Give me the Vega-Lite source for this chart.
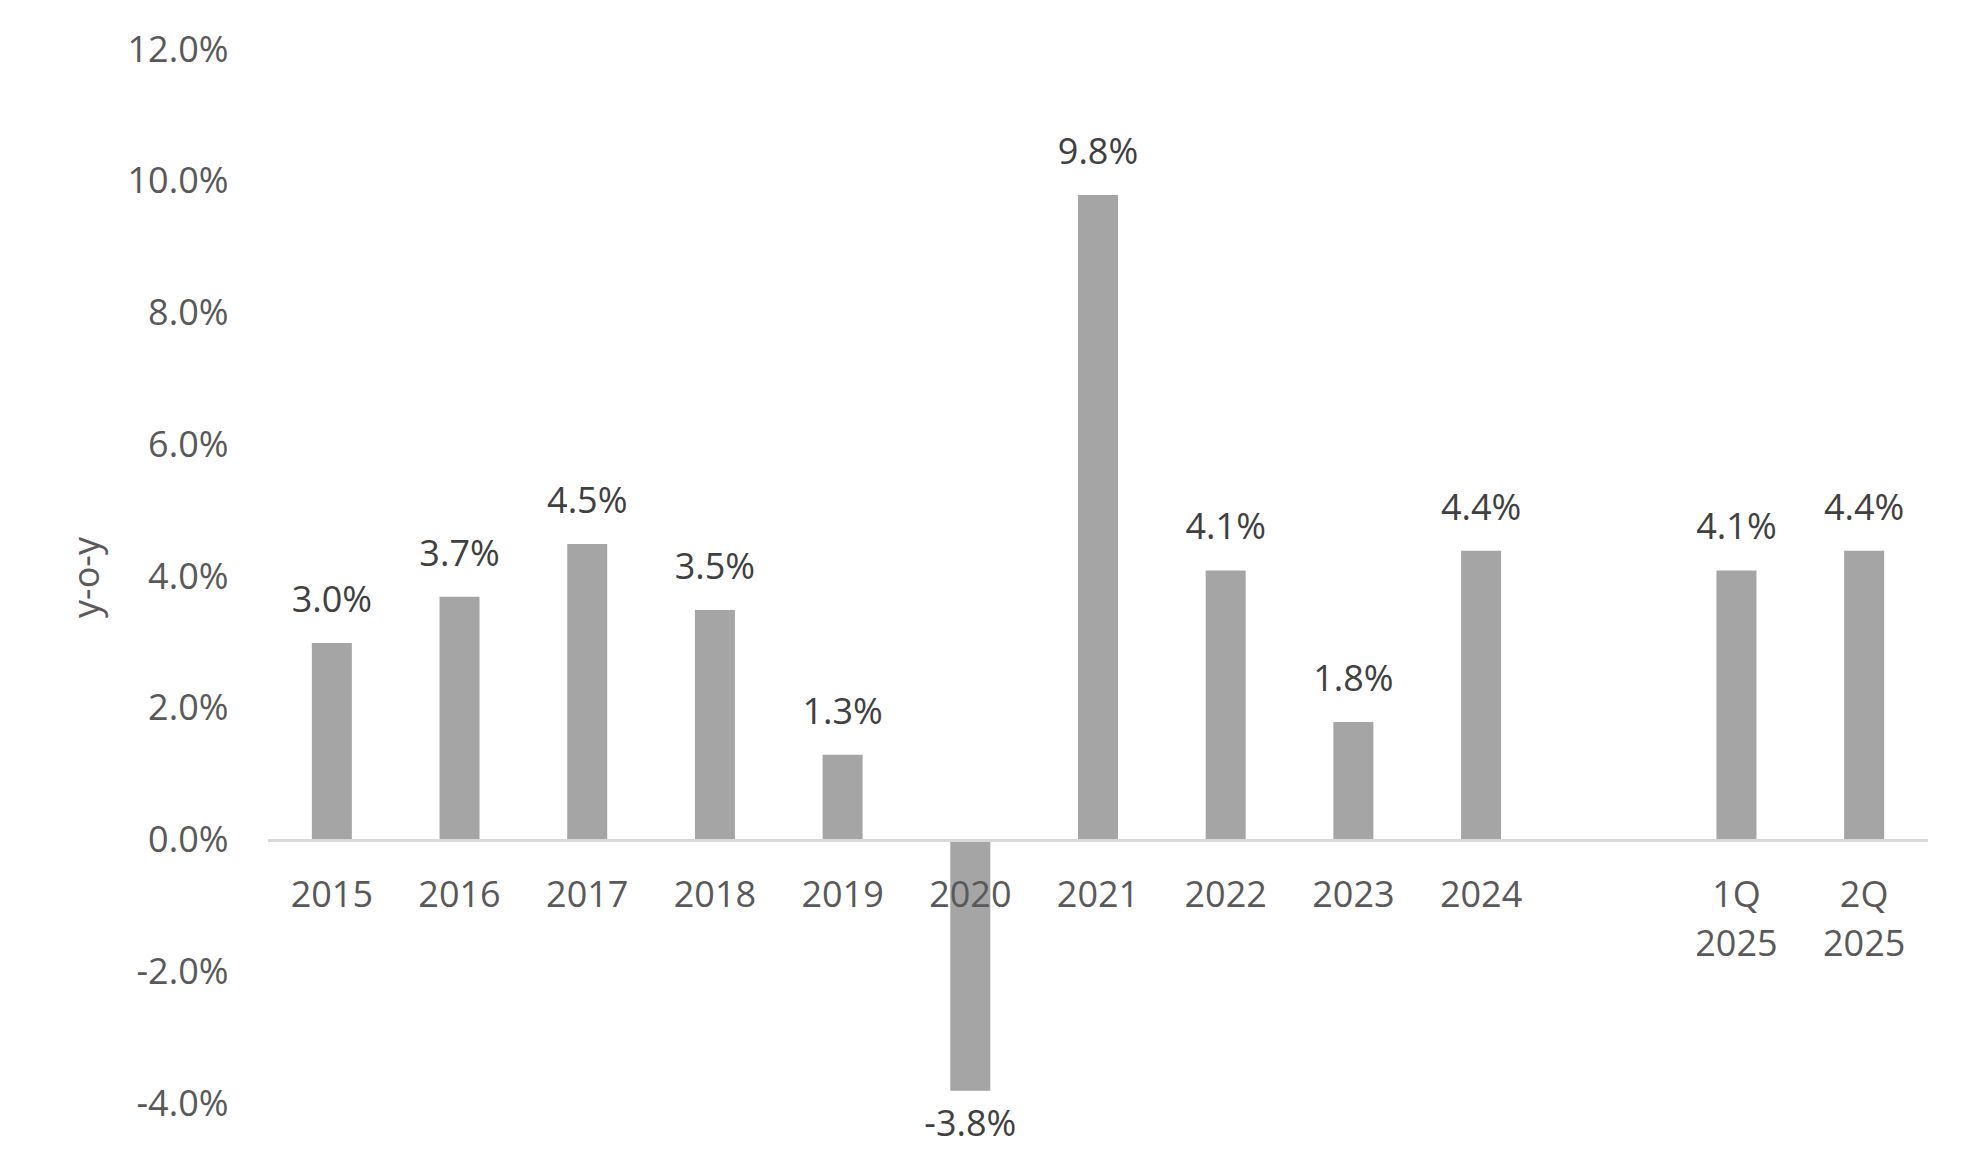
{
  "$schema": "https://vega.github.io/schema/vega-lite/v6.json",
  "width": 1660,
  "height": 1054,
  "autosize": {"type": "none"},
  "padding": {"left": 268, "top": 50, "right": 52, "bottom": 51},
  "background": "white",
  "config": {
    "view": {"stroke": null},
    "font": "Open Sans",
    "locale": {
      "number": {"decimal": ".", "thousands": ",", "grouping": [3], "currency": ["$", ""], "minus": "-", "percent": "%"}
    }
  },
  "data": {
    "values": [
      {"period": "2015", "growth": 0.030},
      {"period": "2016", "growth": 0.037},
      {"period": "2017", "growth": 0.045},
      {"period": "2018", "growth": 0.035},
      {"period": "2019", "growth": 0.013},
      {"period": "2020", "growth": -0.038},
      {"period": "2021", "growth": 0.098},
      {"period": "2022", "growth": 0.041},
      {"period": "2023", "growth": 0.018},
      {"period": "2024", "growth": 0.044},
      {"period": "1Q 2025", "growth": 0.041},
      {"period": "2Q 2025", "growth": 0.044}
    ]
  },
  "layer": [
    {
      "mark": {"type": "bar", "width": 40, "color": "#a5a5a5"},
      "encoding": {
        "x": {
          "field": "period",
          "type": "nominal",
          "sort": null,
          "scale": {
            "domain": ["2015", "2016", "2017", "2018", "2019", "2020", "2021", "2022", "2023", "2024", " ", "1Q 2025", "2Q 2025"],
            "paddingInner": 0,
            "paddingOuter": 0
          },
          "axis": {
            "title": null,
            "domain": false,
            "ticks": false,
            "grid": false,
            "labelAngle": 0,
            "labelFontSize": 36,
            "labelColor": "#595959",
            "labelPadding": 38,
            "labelBaseline": "top",
            "labelLineHeight": 49,
            "labelExpr": "split(datum.label, ' ')",
            "offset": -263.5,
            "zindex": 1
          }
        },
        "y": {
          "field": "growth",
          "type": "quantitative",
          "scale": {"domain": [-0.04, 0.12], "nice": false, "zero": false},
          "axis": {
            "values": [-0.04, -0.02, 0, 0.02, 0.04, 0.06, 0.08, 0.1, 0.12],
            "format": ".1%",
            "grid": false,
            "domain": false,
            "ticks": false,
            "labelPadding": 40,
            "labelFontSize": 36,
            "labelColor": "#595959",
            "title": "y-o-y",
            "titleFontSize": 36,
            "titleColor": "#595959",
            "titleFontWeight": "normal",
            "titleX": -170,
            "titleY": 527,
            "titleAngle": 270,
            "titleBaseline": "alphabetic",
            "titleAlign": "center"
          }
        }
      }
    },
    {
      "mark": {"type": "rule", "color": "#d9d9d9", "strokeWidth": 2.5},
      "encoding": {"y": {"datum": 0, "type": "quantitative"}}
    },
    {
      "transform": [{"filter": "datum.growth >= 0"}],
      "mark": {"type": "text", "dy": -31, "baseline": "alphabetic", "fontSize": 36, "color": "#404040"},
      "encoding": {
        "x": {"field": "period", "type": "nominal"},
        "y": {"field": "growth", "type": "quantitative"},
        "text": {"field": "growth", "type": "quantitative", "format": ".1%"}
      }
    },
    {
      "transform": [{"filter": "datum.growth < 0"}],
      "mark": {"type": "text", "dy": 45, "baseline": "alphabetic", "fontSize": 36, "color": "#404040"},
      "encoding": {
        "x": {"field": "period", "type": "nominal"},
        "y": {"field": "growth", "type": "quantitative"},
        "text": {"field": "growth", "type": "quantitative", "format": ".1%"}
      }
    }
  ]
}
